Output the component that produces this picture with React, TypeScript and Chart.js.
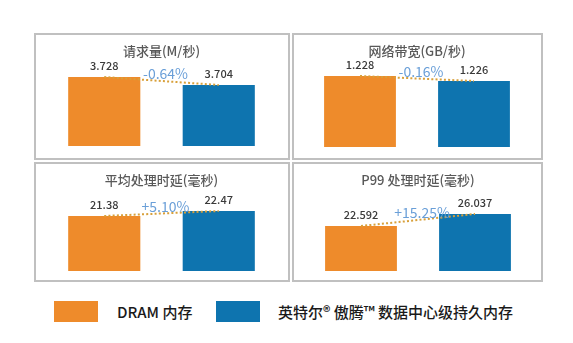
import React, { useEffect, useRef } from "react";
import { Chart, registerables } from "chart.js";

Chart.register(...registerables);

// ---- data ----
const TITLES = ["请求量(M/秒)", "网络带宽(GB/秒)", "平均处理时延(毫秒)", "P99 处理时延(毫秒)"];
const CATEGORIES = ["DRAM", "Optane"];
const DRAM_VALUES = [3.728, 1.228, 21.38, 22.592];
const OPTANE_VALUES = [3.704, 1.226, 22.47, 26.037];
const CHANGE_LABELS = ["-0.64%", "-0.16%", "+5.10%", "+15.25%"];
const Y_MIN = [3.521, 1.1996, 9.39, 9.672];
const Y_MAX = [3.7652, 1.23256, 26.26, 31.89];
const SERIES_NAMES = ["DRAM 内存", "英特尔® 傲腾™ 数据中心级持久内存"];

// ---- styles ----
const ORANGE = "#EE8B2B";
const BLUE = "#0E74AF";
const DOT = "#D8A03A";
const PCT = "#6A9FD8";
const FONT = "'Noto Sans CJK SC', 'Noto Sans', sans-serif";

const PANELS = [
  { left: 34, top: 33, width: 256, height: 127, pad: { left: 11, right: 12, bottom: 12 } },
  { left: 292, top: 33, width: 251, height: 127, pad: { left: 9, right: 10, bottom: 11 } },
  { left: 34, top: 162, width: 256, height: 120, pad: { left: 11, right: 12, bottom: 9 } },
  { left: 292, top: 162, width: 251, height: 120, pad: { left: 10, right: 9, bottom: 9 } },
];

const labelPlugin = {
  id: "valueLabels",
  afterDatasetsDraw(chart: any, _args: any, opts: any) {
    const ctx = chart.ctx;
    const barMeta = chart.getDatasetMeta(0);
    const data = chart.data.datasets[0].data as number[];
    ctx.save();
    ctx.textAlign = "center";
    ctx.textBaseline = "middle";
    ctx.fillStyle = "#3a3a3a";
    ctx.font = `500 11px ${FONT}`;
    barMeta.data.forEach((el: any, i: number) => {
      ctx.fillText(String(data[i]), el.x, el.y - 11);
    });
    const lineMeta = chart.getDatasetMeta(1);
    const p0 = lineMeta.data[0];
    const p1 = lineMeta.data[1];
    const mx = (p0.x + p1.x) / 2 + 4;
    const my = (p0.y + p1.y) / 2 - 7;
    ctx.fillStyle = PCT;
    ctx.font = `14px ${FONT}`;
    ctx.fillText(opts.text, mx, my);
    ctx.restore();
  },
};

function Panel({ idx }: { idx: number }) {
  const ref = useRef<HTMLCanvasElement>(null);
  const p = PANELS[idx];
  const w = p.width - 4;
  const h = p.height - 4;
  useEffect(() => {
    if (!ref.current) return;
    const vals = [DRAM_VALUES[idx], OPTANE_VALUES[idx]];
    const chart = new Chart(ref.current, {
      type: "bar",
      data: {
        labels: CATEGORIES,
        datasets: [
          {
            type: "bar",
            data: vals,
            backgroundColor: [ORANGE, BLUE],
            borderWidth: 0,
            barPercentage: 0.63,
            categoryPercentage: 1,
            order: 2,
          } as any,
          {
            type: "line",
            data: vals,
            borderColor: DOT,
            borderWidth: 2,
            borderDash: [2, 2.2],
            pointRadius: 0,
            fill: false,
            tension: 0,
            order: 1,
          } as any,
        ],
      },
      options: {
        responsive: false,
        animation: false,
        devicePixelRatio: 1,
        layout: { padding: { top: 0, left: p.pad.left, right: p.pad.right, bottom: p.pad.bottom } },
        scales: {
          x: { display: false, grid: { display: false } },
          y: { display: false, min: Y_MIN[idx], max: Y_MAX[idx], grid: { display: false } },
        },
        plugins: {
          legend: { display: false },
          tooltip: { enabled: false },
          title: {
            display: true,
            text: TITLES[idx],
            color: "#595959",
            font: { family: FONT, size: 13, weight: "500", lineHeight: 1.2 },
            padding: { top: 8, bottom: 6 },
          },
          valueLabels: { text: CHANGE_LABELS[idx] },
        } as any,
      },
      plugins: [labelPlugin],
    });
    return () => chart.destroy();
  }, [idx]);
  return (
    <div
      style={{
        position: "absolute",
        left: p.left,
        top: p.top,
        width: p.width,
        height: p.height,
        border: "2px solid #C0C0C0",
        boxSizing: "border-box",
        background: "#fff",
      }}
    >
      <canvas ref={ref} width={w} height={h} style={{ display: "block", width: w, height: h }} />
    </div>
  );
}

export default function App() {
  const legendText: React.CSSProperties = {
    position: "absolute",
    top: 301,
    height: 21,
    lineHeight: "21px",
    fontFamily: FONT,
    fontSize: 15,
    fontWeight: 500,
    color: "#1a1a1a",
    whiteSpace: "nowrap",
  };
  return (
    <div style={{ position: "fixed", left: 0, top: 0, width: 573, height: 343, background: "#fff" }}>
      {PANELS.map((_, i) => (
        <Panel key={i} idx={i} />
      ))}
      <div style={{ position: "absolute", left: 54, top: 301, width: 44, height: 21, background: ORANGE }} />
      <div style={{ ...legendText, left: 117 }}>{SERIES_NAMES[0]}</div>
      <div style={{ position: "absolute", left: 216, top: 301, width: 44, height: 21, background: BLUE }} />
      <div style={{ ...legendText, left: 278 }}>{SERIES_NAMES[1]}</div>
    </div>
  );
}
